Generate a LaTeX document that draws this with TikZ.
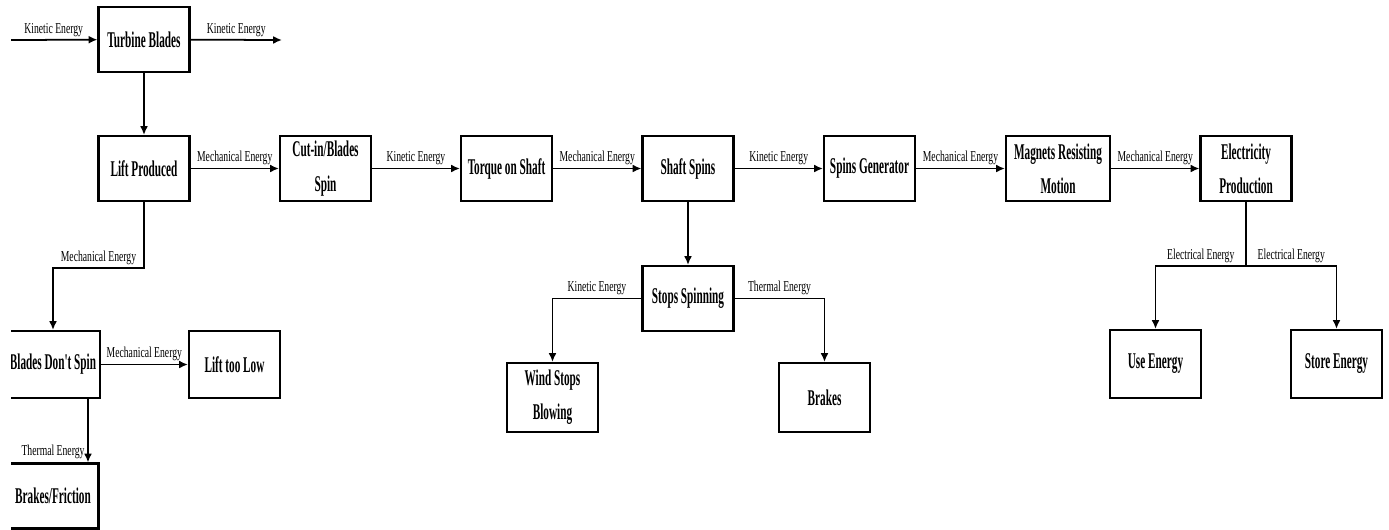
\documentclass[tikz,border=0pt]{standalone}
\usepackage{fontspec}
\setmainfont{Liberation Serif}
\newfontfamily\boxfont[FakeStretch=0.5]{Liberation Serif}
\newfontfamily\labelfont[FakeStretch=0.64]{Liberation Serif}
\usetikzlibrary{arrows.meta}

\begin{document}
\begin{tikzpicture}[x=0.02cm, y=-0.02cm,
    stage/.style={draw, line width=1.2pt, minimum width=1.82cm, minimum height=1.3cm,
      align=center, inner sep=2pt, font=\boxfont\bfseries\fontsize{12.8}{19.5}\selectfont},
    flow/.style={line width=1pt, -{Latex[length=5pt,width=4.5pt]}},
    energy/.style={font=\labelfont\fontsize{8.6}{10}\selectfont, inner sep=1.5pt}]
    \useasboundingbox (0,0) rectangle (1389,529);
    \clip (11,0) rectangle (1389,529);

    \coordinate (windin) at (10,40);
    \coordinate (windout) at (282,40);
    \node[stage] (turbine) at (144,39.5) {Turbine Blades};
    \node[stage] (lift) at (144,168.5) {Lift Produced};
    \node[stage] (cutin) at (325.5,168.5) {Cut-in/Blades\\Spin};
    \node[stage] (torque) at (506.5,168.5) {Torque on Shaft};
    \node[stage] (shaft) at (688,168.5) {Shaft Spins};
    \node[stage] (generator) at (869.5,168.5) {Spins Generator};
    \node[stage, minimum width=2.08cm] (magnets) at (1058,168.5) {Magnets Resisting\\Motion};
    \node[stage] (elec) at (1246,168.5) {Electricity\\Production};
    \node[stage, minimum height=1.34cm] (blades) at (53,364.5) {Blades Don't Spin};
    \node[stage, minimum height=1.34cm] (toolow) at (234.5,364.5) {Lift too Low};
    \node[stage] (friction) at (53,496) {Brakes/Friction};
    \node[stage] (stops) at (688,298.5) {Stops Spinning};
    \node[stage, minimum height=1.38cm] (wind) at (552.5,397.5) {Wind Stops\\Blowing};
    \node[stage, minimum height=1.38cm] (brakes) at (824.5,397.5) {Brakes};
    \node[stage, minimum height=1.36cm] (use) at (1155.5,364) {Use Energy};
    \node[stage, minimum height=1.36cm] (store) at (1336.5,364) {Store Energy};
    \coordinate (liftbend) at (144,268);
    \coordinate (elecsplit) at (1246,266);

    %%%%%%%%%%%%%%%%%%%%%%%%%%%%%%%%%%%%%%%%

    \draw[flow] (windin) -- node[energy, above] {Kinetic Energy} (turbine);
    \draw[flow] (turbine) -- node[energy, above] {Kinetic Energy} (windout);
    \draw[flow] (turbine) -- (lift);
    \draw[flow] (lift) -- node[energy, above] {Mechanical Energy} (cutin);
    \draw[flow] (cutin) -- node[energy, above] {Kinetic Energy} (torque);
    \draw[flow] (torque) -- node[energy, above] {Mechanical Energy} (shaft);
    \draw[flow] (shaft) -- node[energy, above] {Kinetic Energy} (generator);
    \draw[flow] (generator) -- node[energy, above] {Mechanical Energy} (magnets);
    \draw[flow] (magnets) -- node[energy, above] {Mechanical Energy} (elec);

    \draw[flow] (lift.south) -- (liftbend) -| node[energy, pos=0.25, above] {Mechanical Energy} (blades.north);
    \draw[flow] (blades) -- node[energy, above] {Mechanical Energy} (toolow);
    \draw[flow] ([xshift=0.7cm]blades.south) -- node[energy, pos=1, above left] {Thermal Energy} ([xshift=0.7cm]friction.north);

    \draw[flow] (shaft) -- (stops);
    \draw[flow] (stops.west) -| node[energy, pos=0.25, above] {Kinetic Energy} (wind.north);
    \draw[flow] (stops.east) -| node[energy, pos=0.25, above] {Thermal Energy} (brakes.north);

    \draw[line width=1pt] (elec) -- (elecsplit);
    \draw[flow] (elecsplit) -| node[energy, pos=0.25, above] {Electrical Energy} (use.north);
    \draw[flow] (elecsplit) -| node[energy, pos=0.25, above] {Electrical Energy} (store.north);

\end{tikzpicture}
\end{document}
